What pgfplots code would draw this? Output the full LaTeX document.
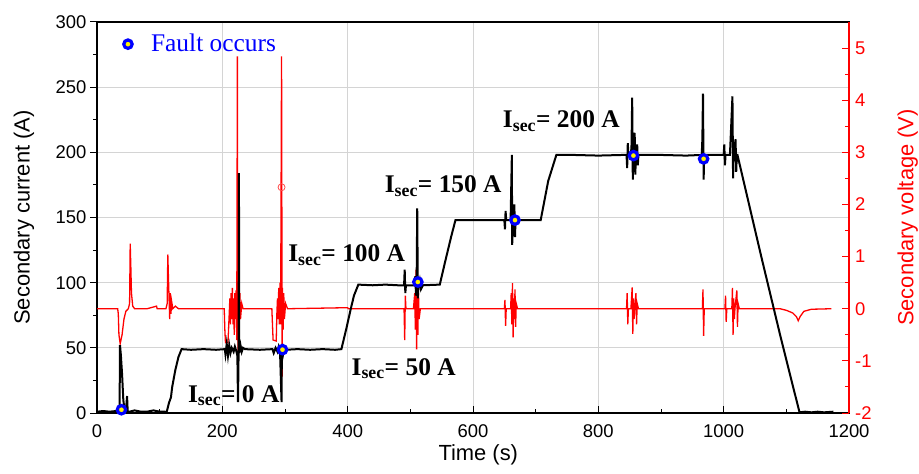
\documentclass[border=0pt]{standalone}
\usepackage{pgfplots}
\pgfplotsset{compat=1.18}
\usepackage{fontspec}
\setmainfont{Liberation Sans}
\newfontfamily\tnr{Liberation Serif}
\definecolor{gridgray}{RGB}{212,212,212}
\definecolor{vred}{RGB}{255,0,0}
\newcommand{\isec}[1]{{\tnr\bfseries\fontsize{25.5}{28}\selectfont I\textsubscript{sec}= #1}}
\pgfplotsset{
  common/.style={
    scale only axis, width=752bp, height=391bp,
    at={(0,0)}, anchor=south west,
    xmin=0, xmax=1200,
    /pgf/number format/assume math mode=true,
    /pgf/number format/1000 sep={},
    ticklabel style={font=\fontsize{18.5}{20}\selectfont},
    label style={font=\fontsize{22}{24}\selectfont},
    major tick length=7bp, minor tick length=4bp,
  }
}
\begin{document}
\begin{tikzpicture}
\useasboundingbox (-97bp,-61bp) rectangle (822bp,413bp);
% Axis A: frame, grid, left and bottom ticks
\begin{axis}[common,
  ymin=0, ymax=300,
  xtick={0,200,...,1200}, ytick={0,50,...,300},
  minor x tick num=1, minor y tick num=1,
  xtick pos=left, ytick pos=left,
  xtick align=inside, ytick align=outside,
  grid=major, major grid style={gridgray, line width=0.9bp},
  axis line style={black, line width=1.2bp},
  tick style={black, line width=1bp},
  xticklabel style={inner sep=1bp, yshift=-10bp},
  xlabel={Time (s)}, ylabel={Secondary current (A)},
  xlabel style={at={(axis description cs:0.507,-0.107)}, anchor=center},
  ylabel style={at={(axis description cs:-0.097,0.5)}, anchor=center},
]
\addplot[draw=none] coordinates {(0,0)};
\end{axis}
% Axis B: secondary voltage (red)
\begin{axis}[common,
  ymin=-2, ymax=5.5,
  axis x line=none, axis y line*=right,
  ytick={-2,-1,...,5}, minor y tick num=1,
  tick align=inside,
  y axis line style={vred, line width=1.5bp},
  ytick style={vred, line width=1bp},
  yticklabel style={text=vred, inner sep=1bp, xshift=5bp},
  ylabel={Secondary voltage (V)},
  ylabel style={text=vred, at={(axis description cs:1.078,0.5)}, anchor=center, rotate=0},
]
\addplot[vred, line width=1.3bp] table {
t v
0 0
33 0
34 -0.1
35 -0.5
37 -0.67
40 -0.5
43 -0.2
46 -0.05
50 0
52 0.1
53 1.25
54 0.8
55 0.3
57 0.05
60 0
80 0
95 0.05
96 0
110 0
112 0.1
113 1.04
114 0.6
115 0.2
116 -0.2
117 0.3
118 -0.1
119 0.15
121 0
125 0.05
130 0
203 0
204 -0.4
205 -0.65
209 -0.65
211 -0.1
212 0.2
213 -0.3
214 0.3
215 -0.2
216 0.4
217 -0.3
218 0.2
219 -0.5
220 0.3
221 -0.2
222 0.35
223 -0.6
224 4.84
225 -1.42
226 0.4
227 -0.3
228 0.3
229 -0.2
231 0.1
233 0
279 0
280 -0.3
281 -0.6
286 -0.62
287 -0.1
288 0.2
289 -0.2
290 0.4
291 -0.3
292 0.5
293 -0.3
294.5 4.84
295.5 -1.3
296 0.4
297 -0.4
298 0.3
299 -0.2
301 0.1
304 0
400 0.02
401 0
490 0
491 -0.6
492 0.25
493 0
505 0
507 0.3
508 -0.4
509 0.75
510 -0.78
511 0.6
512 -0.5
513 0.3
514 -0.2
516 0
650 0
651 0.17
652 -0.33
653 0
660 0
661 0.3
662 -0.3
663 0.49
664 -0.55
665 0.2
666 -0.2
667 0.37
668 -0.35
669 0.1
671 0
845 0
846 0.3
847 -0.3
848 0
852 0
853 0.2
854 0.41
855 -0.48
856 0.2
857 -0.2
858 0
860 0.3
861 -0.3
862 0.1
864 0
966 0
967 0.37
968 -0.52
969 0
1002 0
1003 0.25
1004 -0.25
1005 0
1013 0
1014 0.4
1015 -0.5
1016 0.2
1017 -0.2
1018 0
1021 0.35
1022 -0.35
1023 0.1
1025 0
1090 0
1100 -0.03
1110 -0.08
1116 -0.15
1119 -0.23
1122 -0.15
1128 -0.05
1140 -0.01
1172 0
};
\addplot[only marks, mark=o, mark size=3.5bp, mark options={vred!70, line width=0.8bp}] coordinates {(294.5,2.33)};
\end{axis}
% Axis C: secondary current (black) and fault markers
\begin{axis}[common, ymin=0, ymax=300, hide axis]
\addplot[black, line width=2bp] table {
t a
0 1
10 1.5
20 1
30 1.5
36 1
36.7 52
38 45
40 30
42 10
44 2
46 1
48 13
49 1
52 1
60 2
70 1
80 1
90 2
100 1
108 1
111 0.5
115 8
118 12
120 20
125 33
130 43
135 49
150 48.5
170 49
190 48.5
204 49
205 45
207 53
209 44
211 52
213 46
215 50
218 47
220 51
222 48
224 44
225 8.4
226 48
226.5 184
227 46
229 52
231 47
233 50
236 49
260 48.5
280 49
282 46
285 50
288 47
290 51
292 48
294.5 8.4
295 49
296 53
297 45
299 50
301 48.5
320 49
340 48.5
360 49
380 48.5
390 49
398 65
405 80
410 90
417 98.5
440 98
460 98.5
480 98
490 98
491 110
492 92
493 98
500 98
506 98
508 105
509 90
510 98
511 157
512 88
513 98
515 102
517 95
520 98
547 98.5
555 115
565 135
572 148
600 148
640 148
650 148
651 141
652 155
653 148
660 148
662 198
662.5 129
664 148
666 160
667 135
668 150
670 148
680 148
708 148
720 178
733 198
760 198
800 197.5
840 198
845 198
846 188
847 207
848 198
852 198
853 206
854 242
855 179
856 198
858 215
859 183
860 198
862 206
863 190
864 198
900 198
940 197.5
965 198
966 210
967 245
968 179
969 198
990 198
1000 198
1001 206
1002 190
1003 198
1010 198
1014 243
1015 180
1016 198
1019 210
1020 185
1021 198
1022 198
1060 120
1090 60
1121 0.5
1130 1
1140 0.5
1150 1
1160 0.5
1175 1
};
\addplot[only marks, mark=*, mark size=4.2bp, mark options={draw=blue, fill=yellow, line width=3.2bp}] coordinates {
(39,2.5) (296,48.6) (512,100.5) (667,148) (856,197.5) (968,195) (49.4,283)};
\node[anchor=base west, text=blue, inner sep=0pt, font=\tnr\fontsize{25.5}{28}\selectfont] at (axis cs:86,277) {Fault occurs};
\node[anchor=base west, inner sep=0pt] at (axis cs:647.5,218.7) {\isec{200 A}};
\node[anchor=base west, inner sep=0pt] at (axis cs:459,168.8) {\isec{150 A}};
\node[anchor=base west, inner sep=0pt] at (axis cs:305,116) {\isec{100 A}};
\node[anchor=base west, inner sep=0pt] at (axis cs:406,29) {\isec{50 A}};
\node[anchor=base west, inner sep=0pt] at (axis cs:145,8.4) {\isec{0 A}};
\end{axis}
\end{tikzpicture}
\end{document}
